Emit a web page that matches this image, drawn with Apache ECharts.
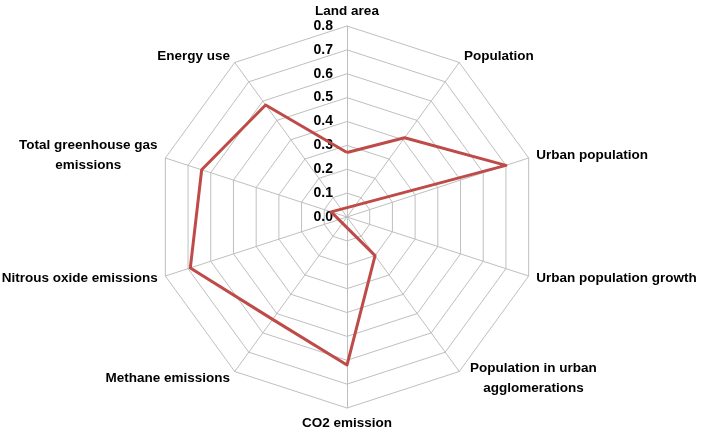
<!DOCTYPE html>
<html>
<head>
<meta charset="utf-8">
<script src="https://cdn.jsdelivr.net/npm/echarts@6/dist/echarts.min.js"></script>
<style>
html,body{margin:0;padding:0;background:#fff;}
#chart{width:708px;height:436px;}
</style>
</head>
<body>
<div id="chart"></div>
<script>
// Categories in clockwise order starting from the top
var categories = [
  'Land area',
  'Population',
  'Urban population',
  'Urban population growth',
  'Population in urban\nagglomerations',
  'CO2 emission',
  'Methane emissions',
  'Nitrous oxide emissions',
  'Total greenhouse gas\nemissions',
  'Energy use'
];
// Values in the same clockwise order
var values = [0.27, 0.41, 0.70, -0.07, 0.20, 0.62, 0.53, 0.69, 0.64, 0.58];
var tickLabels = ['0.0','0.1','0.2','0.3','0.4','0.5','0.6','0.7','0.8'];
var axisMin = 0, axisMax = 0.8;

var FONT = 'Liberation Sans';
var FSIZE = 13.5;

// ECharts radar goes counter-clockwise; reorder to draw clockwise
function toCCW(arr) { return [arr[0]].concat(arr.slice(1).reverse()); }
var indCats = toCCW(categories);
var indVals = toCCW(values);

var ctx = document.createElement('canvas').getContext('2d');
ctx.font = 'bold ' + FSIZE + 'px "' + FONT + '"';
function maxLineWidth(s) {
  return Math.ceil(Math.max.apply(null, s.split('\n').map(function (l) { return ctx.measureText(l).width; })));
}

var indicator = indCats.map(function (c, i) {
  var o = { name: c, min: axisMin, max: axisMax };
  if (i === 0) {
    o.axisLabel = {
      show: true,
      margin: 14,
      color: '#000',
      fontSize: 14,
      fontWeight: 'bold',
      fontFamily: FONT,
      formatter: function (v) {
        var k = Math.round((v - axisMin) / 0.1);
        return tickLabels[k] !== undefined ? tickLabels[k] : '';
      }
    };
  }
  return o;
});

var richW = Math.max(maxLineWidth(categories[4]), maxLineWidth(categories[8]));

var chart = echarts.init(document.getElementById('chart'), null, { renderer: 'canvas' });
chart.setOption({
  animation: false,
  backgroundColor: '#fff',
  radar: {
    center: [347, 217],
    radius: 191,
    startAngle: 90,
    splitNumber: 8,
    shape: 'polygon',
    axisNameGap: 8,
    axisName: {
      color: '#000',
      fontSize: FSIZE,
      fontWeight: 'bold',
      fontFamily: FONT,
      formatter: function (name) {
        if (name.indexOf('\n') < 0) return name;
        return name.split('\n').map(function (l) { return '{c|' + l + '}'; }).join('\n');
      },
      rich: {
        c: {
          color: '#000', fontSize: FSIZE, fontWeight: 'bold', fontFamily: FONT,
          width: richW, align: 'center', lineHeight: 20
        }
      }
    },
    axisLine: { lineStyle: { color: '#bfbfbf', width: 1 } },
    splitLine: { lineStyle: { color: '#bfbfbf', width: 1 } },
    splitArea: { show: false },
    axisTick: { show: false },
    axisLabel: { show: false },
    indicator: indicator
  },
  series: [{
    type: 'radar',
    symbol: 'none',
    lineStyle: { color: '#be4b48', width: 3 },
    data: [{ value: indVals }]
  }]
});
</script>
</body>
</html>
